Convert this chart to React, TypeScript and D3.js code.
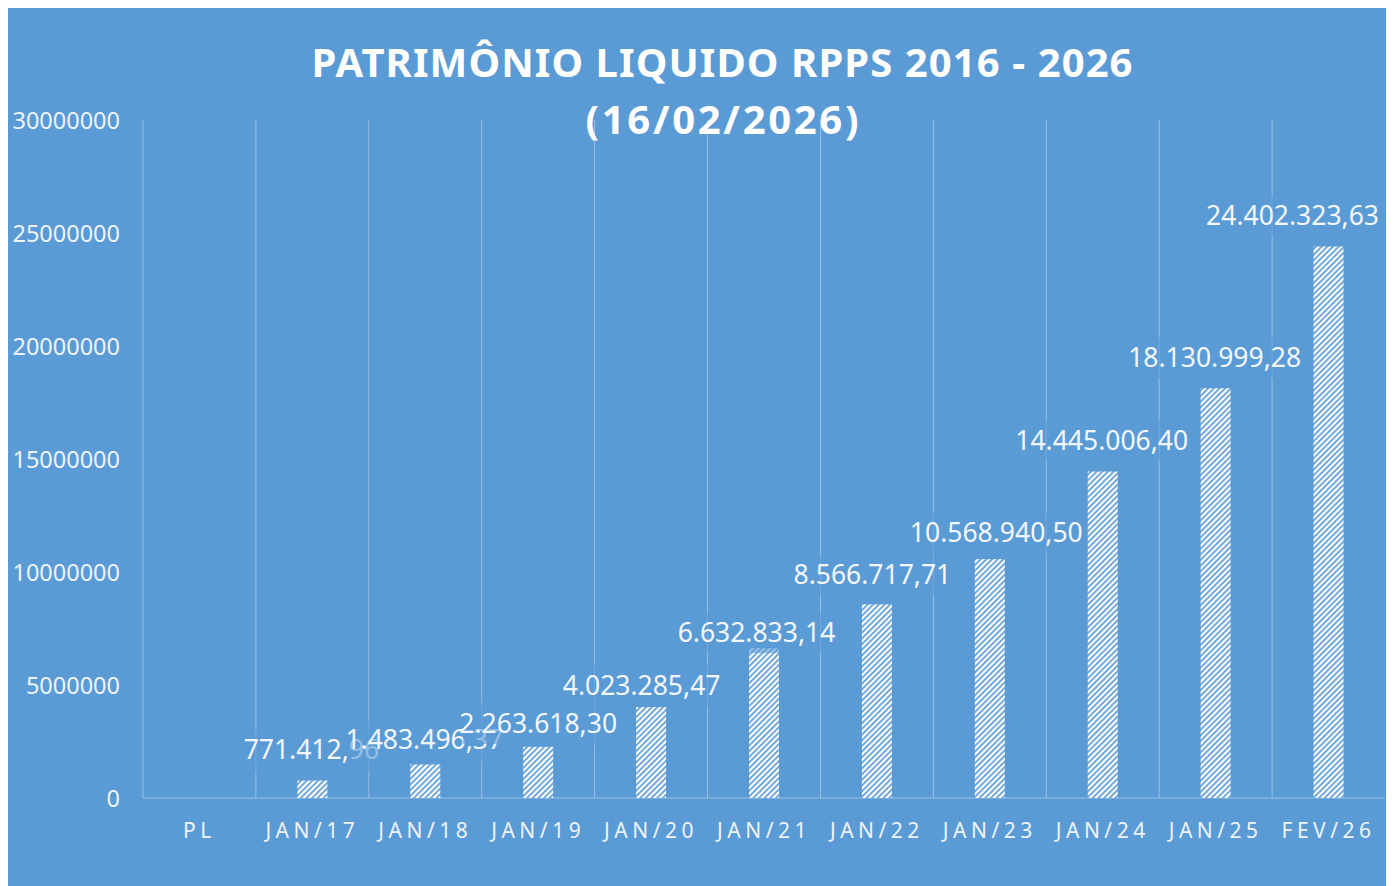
import React from "react";
import * as d3 from "d3";

const categories = ["PL", "JAN/17", "JAN/18", "JAN/19", "JAN/20", "JAN/21", "JAN/22", "JAN/23", "JAN/24", "JAN/25", "FEV/26"];
const values = [0, 771412.96, 1483496.37, 2263618.3, 4023285.47, 6632833.14, 8566717.71, 10568940.5, 14445006.4, 18130999.28, 24402323.63];
const valueLabels = ["", "771.412,96", "1.483.496,37", "2.263.618,30", "4.023.285,47", "6.632.833,14", "8.566.717,71", "10.568.940,50", "14.445.006,40", "18.130.999,28", "24.402.323,63"];
const yTicks = [0, 5000000, 10000000, 15000000, 20000000, 25000000, 30000000];
const titleLines = ["PATRIMÔNIO LIQUIDO RPPS 2016 - 2026", "(16/02/2026)"];

// layout nudges of the data labels (px, relative to bar centre / bar top), as placed in the original
const labelDx = [0, -1, -1, 0, -9.5, -7.5, -4.5, 6.5, -1, -1, -36];
const labelDy = [0, -30.6, -24.5, -23.8, -22, -16, -29.4, -27, -31.5, -31, -31.5];

export default function App() {
  const W = 1394, H = 886;
  const bg = "#5B9BD5";
  const left = 143, right = 1385, top = 120, bottom = 798;
  const x = d3.scaleBand<string>().domain(categories).range([left, right]).paddingInner(0).paddingOuter(0);
  const y = d3.scaleLinear().domain([0, 30000000]).range([bottom, top]);
  const barW = 30;
  const font = "'Noto Sans', 'Open Sans', sans-serif";
  const grid = "rgba(190,215,240,0.6)";
  const lfs = 26.5;
  const textW = (s: string) => {
    let w = 0;
    for (const ch of s) w += /[0-9]/.test(ch) ? 0.5215 : 0.255;
    return w * lfs;
  };
  return (
    <svg width={W} height={H} style={{ position: "absolute", left: 0, top: 0 }}>
      <defs>
        <pattern id="hatch" width="4" height="4" patternUnits="userSpaceOnUse" patternTransform="rotate(45)">
          <rect width="4" height="4" fill="#ffffff" />
          <line x1="0.9" y1="0" x2="0.9" y2="4" stroke={bg} strokeWidth="1.7" />
        </pattern>
      </defs>
      <rect x={8} y={8} width={1378} height={878} fill={bg} />
      {categories.map((c) => (
        <line key={c} x1={x(c)!} x2={x(c)!} y1={top} y2={bottom} stroke={grid} strokeWidth={1} />
      ))}
      <line x1={left} x2={right} y1={bottom} y2={bottom} stroke={grid} strokeWidth={1.2} />
      {yTicks.map((t) => (
        <text key={t} x={120} y={y(t) + 8.5} textAnchor="end" fill="#EEF3FA" fontFamily={font} fontSize={23.5}>
          {String(t)}
        </text>
      ))}
      {categories.map((c, i) =>
        values[i] > 0 ? (
          <rect key={c} x={x(c)! + x.bandwidth() / 2 - barW / 2} y={y(values[i])} width={barW} height={bottom - y(values[i])} fill="url(#hatch)" />
        ) : null
      )}
      {categories.map((c, i) => {
        if (!valueLabels[i]) return null;
        const cx = x(c)! + x.bandwidth() / 2 + labelDx[i];
        const cy = y(values[i]) + labelDy[i];
        const w = textW(valueLabels[i]);
        return (
          <g key={c}>
            <rect x={cx - w / 2 - 3} y={cy - 20} width={w + 6} height={41} fill={bg} fillOpacity={0.62} />
            <text x={cx} y={cy + 9.5} textAnchor="middle" fill="#F4F7FC" fontFamily={font} fontSize={lfs}>
              {valueLabels[i]}
            </text>
          </g>
        );
      })}
      {categories.map((c) => (
        <text key={c} x={x(c)! + x.bandwidth() / 2} y={838} textAnchor="middle" fill="#EEF3FA" fontFamily={font} fontSize={21} letterSpacing={4.5}>
          {c}
        </text>
      ))}
      <text x={722} y={77} textAnchor="middle" fill="#ffffff" fontFamily={font} fontWeight="bold" fontSize={40} textLength={821} lengthAdjust="spacing">
        {titleLines[0]}
      </text>
      <text x={722} y={134} textAnchor="middle" fill="#ffffff" fontFamily={font} fontWeight="bold" fontSize={40} textLength={273} lengthAdjust="spacing">
        {titleLines[1]}
      </text>
    </svg>
  );
}
